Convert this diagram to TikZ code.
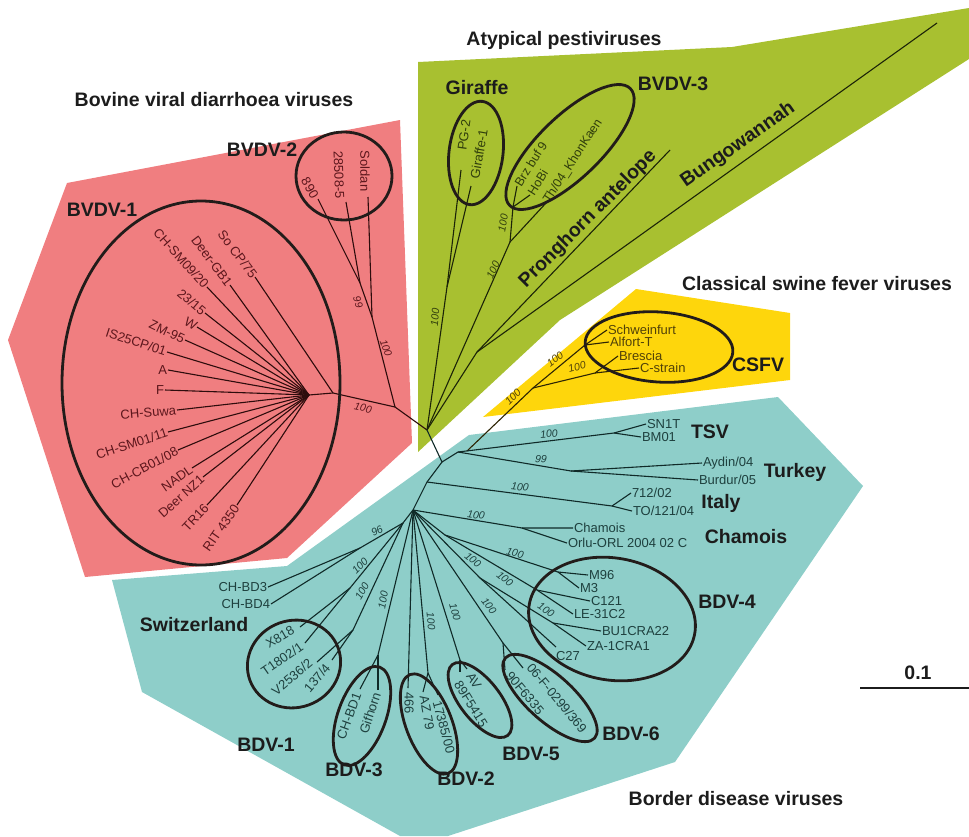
\documentclass[tikz,border=0pt]{standalone}
\usepackage{fontspec}
\setmainfont{Liberation Sans}
\usetikzlibrary{shapes.geometric}
\definecolor{redfill}{RGB}{240,126,128}
\definecolor{greenfill}{RGB}{168,192,48}
\definecolor{yellowfill}{RGB}{254,214,12}
\definecolor{tealfill}{RGB}{142,206,201}
\definecolor{redink}{RGB}{92,22,28}
\definecolor{redline}{RGB}{45,12,12}
\definecolor{greenink}{RGB}{48,62,12}
\definecolor{greenline}{RGB}{28,36,8}
\definecolor{yellowink}{RGB}{82,66,8}
\definecolor{yellowline}{RGB}{45,36,4}
\definecolor{tealink}{RGB}{30,64,62}
\definecolor{tealline}{RGB}{16,42,40}
\definecolor{cladecol}{RGB}{34,28,26}
\definecolor{labelk}{RGB}{28,28,28}
\tikzset{
 leaf/.style={font=\fontsize{13}{13}\selectfont, inner sep=0.8pt},
 rleaf/.style={leaf,text=redink},
 gleaf/.style={leaf,text=greenink},
 yleaf/.style={leaf,text=yellowink},
 tleaf/.style={leaf,text=tealink},
 grp/.style={font=\fontsize{19.5}{20}\selectfont\bfseries, text=labelk, inner sep=0pt},
 bs/.style={font=\fontsize{10.5}{11}\selectfont\itshape, inner sep=0pt},
 rbs/.style={bs,text=redink}, gbs/.style={bs,text=greenink},
 ybs/.style={bs,text=yellowink}, tbs/.style={bs,text=tealink},
 br/.style={line width=1.1pt},
 rbr/.style={br,draw=redline}, gbr/.style={br,draw=greenline},
 ybr/.style={br,draw=yellowline}, tbr/.style={br,draw=tealline},
 clade/.style={draw=cladecol, line width=2.8pt, ellipse, inner sep=0pt},
}
\begin{document}
\begin{tikzpicture}[x=1pt,y=-1pt]
\useasboundingbox (0,0) rectangle (969,836);
% ---------------- background regions
\fill[redfill] (67,183) -- (400,120) -- (412,443) -- (287,558) -- (85,577) -- (8,340) -- cycle;
\fill[greenfill] (418,62) -- (732,47) -- (969,8) -- (969,59) -- (560,320) -- (418,452) -- cycle;
\fill[yellowfill] (636,289) -- (790,313) -- (790,380) -- (483,417) -- cycle;
\fill[tealfill] (112,580) -- (287,566) -- (469,435) -- (778,397) -- (863,486) -- (675,762) -- (448,836) -- (400,836) -- (142,692) -- cycle;

% ---------------- titles
\node[grp] (tBV) at (214,100) {Bovine viral diarrhoea viruses};
\node[grp] (tAT) at (564,40) {Atypical pestiviruses};
\node[grp] (tCS) at (817,284) {Classical swine fever viruses};
\node[grp] (tBD) at (736,799) {Border disease viruses};

% ---------------- internal coordinates
\coordinate (bv1) at (309,395);
\coordinate (bv1b) at (333,393);
\coordinate (bv) at (395,407);
\coordinate (bv2a) at (372,317);
\coordinate (bv2b) at (360,283);
\coordinate (root) at (427,430);
\coordinate (g) at (447,287);
\coordinate (n3) at (510,242);
\coordinate (nb) at (513,207);
\coordinate (pb) at (477,352);
\coordinate (s1) at (442,462);
\coordinate (tt) at (458,452);
\coordinate (c0) at (467,451);
\coordinate (c1) at (533,388);
\coordinate (c2) at (585,345);
\coordinate (c3) at (595,373);
\coordinate (tsvn) at (614,433);
\coordinate (turk) at (571,471);
\coordinate (s2) at (427,482);
\coordinate (itn) at (612,506);
\coordinate (hub) at (413,510);
\coordinate (hub2) at (403,523);
\coordinate (chn) at (522,528);
\coordinate (n96) at (360,548);
\coordinate (nx) at (350,588);
\coordinate (nv) at (353,630);
\coordinate (nb3) at (378,655);
\coordinate (nb2) at (428,673);
\coordinate (nb5) at (460,660);
\coordinate (nb6) at (503,643);
\coordinate (n4) at (445,535);
\coordinate (nm) at (558,572);
\coordinate (nc) at (537,590);
\coordinate (n4c) at (480,578);
\coordinate (nbz) at (553,623);

% ---------------- BVDV-1
\node[rleaf,anchor=east,rotate=-53] (soc) at (255,277) {So CP/75};
\node[rleaf,anchor=east,rotate=-53] (dgb) at (230,285) {Deer-GB1};
\node[rleaf,anchor=east,rotate=-48] (chsm9) at (207,287) {CH-SM09/20};
\node[rleaf,anchor=east,rotate=-40] (l2315) at (205,313) {23/15};
\node[rleaf,anchor=east,rotate=-30] (lw) at (197,327) {W};
\node[rleaf,anchor=east,rotate=-25] (zm) at (185,340) {ZM-95};
\node[rleaf,anchor=east,rotate=-18] (is25) at (167,352) {IS25CP/01};
\node[rleaf,anchor=east] (la) at (168,370) {A};
\node[rleaf,anchor=east] (lf) at (165,390) {F};
\node[rleaf,anchor=east,rotate=5] (suwa) at (177,410) {CH-Suwa};
\node[rleaf,anchor=east,rotate=18] (chsm1) at (168,432) {CH-SM01/11};
\node[rleaf,anchor=east,rotate=28] (chcb) at (178,450) {CH-CB01/08};
\node[rleaf,anchor=east,rotate=35] (nadl) at (192,468) {NADL};
\node[rleaf,anchor=east,rotate=42] (deernz) at (203,477) {Deer NZ1};
\node[rleaf,anchor=east,rotate=47] (tr16) at (207,505) {TR16};
\node[rleaf,anchor=east,rotate=55] (rit) at (237,505) {RIT 4350};
\draw[rbr] (bv1b) -- (soc.east);
\foreach \n in {dgb,chsm9,l2315,lw,zm,is25,la,lf,suwa,chsm1,chcb,nadl,deernz,tr16,rit}
  \draw[rbr] (bv1) -- (\n.east);
\draw[rbr] (bv1) -- (bv1b) -- (bv);
\node[clade,minimum width=278pt,minimum height=364pt] (eBV1) at (201,383) {};
\node[grp] (gBV1) at (102,210) {BVDV-1};
\node[rbs,rotate=-13] (b1) at (363,408) {100};

% ---------------- BVDV-2
\coordinate (e890) at (318,199);
\coordinate (e285) at (346,202);
\coordinate (esol) at (368,197);
\node[rleaf,rotate=-60] (l890) at (310,188) {890};
\node[rleaf,rotate=-88] (l285) at (339,175) {28508-5};
\node[rleaf,rotate=-90] (lsol) at (365,171) {Soldan};
\draw[rbr] (bv) -- (bv2a) -- (bv2b) -- (e890);
\draw[rbr] (bv2b) -- (e285);
\draw[rbr] (bv2a) -- (esol);
\node[clade,minimum width=96pt,minimum height=88pt] (eBV2) at (344,176) {};
\node[grp] (gBV2) at (262,150) {BVDV-2};
\node[rbs,rotate=-72] (b99) at (358,302) {99};
\node[rbs,rotate=-70] (b2) at (386,348) {100};
\draw[rbr] (bv) -- (root);

% ---------------- Atypical
\coordinate (epg) at (461,170);
\coordinate (egi) at (471,186);
\coordinate (epr) at (670,150);
\coordinate (ebu) at (937,23);
\node[gleaf,rotate=82] (lpg) at (464,135) {PG-2};
\node[gleaf,rotate=80] (lgi) at (479,154) {Giraffe-1};
\node[gleaf,font=\fontsize{12.5}{12.5}\selectfont,anchor=west,rotate=58] (lbrz) at (517,186) {Brz buf 9};
\node[gleaf,font=\fontsize{12.5}{12.5}\selectfont,anchor=west,rotate=58] (lhob) at (530,195) {HoBi};
\node[gleaf,font=\fontsize{12.5}{12.5}\selectfont,anchor=west,rotate=57] (lth) at (546,203) {Th/04\_KhonKaen};
\draw[gbr] (root) -- (g) -- (epg);
\draw[gbr] (g) -- (egi);
\draw[gbr] (root) -- (n3) -- (nb) -- (lbrz.west);
\draw[gbr] (nb) -- (lhob.west);
\draw[gbr] (n3) -- (lth.west);
\draw[gbr] (root) -- (pb) -- (epr);
\draw[gbr] (pb) -- (ebu);
\node[clade,minimum width=104pt,minimum height=54pt,rotate=83] (eGir) at (476,153) {};
\node[clade,minimum width=168pt,minimum height=62pt,rotate=44] (eBV3) at (570,147) {};
\node[grp] (gGir) at (477,88) {Giraffe};
\node[grp] (gBV3) at (673,84) {BVDV-3};
\node[grp,rotate=45] (gPr) at (588,219) {Pronghorn antelope};
\node[grp,rotate=35] (gBu) at (738,145) {Bungowannah};
\node[gbs,rotate=85] (b3) at (435,317) {100};
\node[gbs,rotate=65] (b4) at (493,270) {100};
\node[gbs,rotate=80] (b5) at (503,223) {100};

% ---------------- stem
\draw[tbr] (root) -- (s1) -- (tt);
\draw[tbr] (s1) -- (s2) -- (hub) -- (hub2);

% ---------------- CSFV
\node[yleaf,anchor=west] (lsch) at (607,330) {Schweinfurt};
\node[yleaf,anchor=west] (lalf) at (609,342) {Alfort-T};
\node[yleaf,anchor=west] (lbre) at (618,356) {Brescia};
\node[yleaf,anchor=west] (lcst) at (639,368) {C-strain};
\draw[ybr] (c0) -- (c1) -- (c2) -- (lsch.west);
\draw[ybr] (c2) -- (lalf.west);
\draw[ybr] (c1) -- (c3) -- (lbre.west);
\draw[ybr] (c3) -- (lcst.west);
\node[clade,minimum width=148pt,minimum height=70pt,rotate=-4] (eCS) at (659,347) {};
\node[grp] (gCS) at (758,365) {CSFV};
\node[ybs,rotate=45] (b6) at (513,397) {100};
\node[ybs,rotate=38] (b7) at (555,359) {100};
\node[ybs,rotate=15] (b8) at (577,367) {100};

% ---------------- TSV, Turkey, Italy, Chamois
\node[tleaf,anchor=west] (lsn) at (646,424) {SN1T};
\node[tleaf,anchor=west] (lbm) at (641,437) {BM01};
\node[tleaf,anchor=west] (lay) at (702,463) {Aydin/04};
\node[tleaf,anchor=west] (lbu) at (698,480) {Burdur/05};
\node[tleaf,anchor=west] (l712) at (631,493) {712/02};
\node[tleaf,anchor=west] (lto) at (632,511) {TO/121/04};
\node[tleaf,anchor=west] (lcha) at (573,528) {Chamois};
\node[tleaf,anchor=west] (lorl) at (567,543) {Orlu-ORL 2004 02 C};
\draw[tbr] (tt) -- (tsvn) -- (lsn.west);
\draw[tbr] (tsvn) -- (lbm.west);
\draw[tbr] (tt) -- (turk) -- (lay.west);
\draw[tbr] (turk) -- (lbu.west);
\draw[tbr] (s2) -- (itn) -- (l712.west);
\draw[tbr] (itn) -- (lto.west);
\draw[tbr] (hub) -- (chn) -- (lcha.west);
\draw[tbr] (chn) -- (lorl.west);
\node[grp] (gTSV) at (710,432) {TSV};
\node[grp] (gTur) at (795,472) {Turkey};
\node[grp] (gIt) at (721,503) {Italy};
\node[grp] (gCh) at (746,537) {Chamois};
\node[tbs,rotate=5] (b9) at (549,434) {100};
\node[tbs,rotate=-5] (b10) at (541,459) {99};
\node[tbs,rotate=-7] (b11) at (520,487) {100};
\node[tbs,rotate=-8] (b12) at (476,515) {100};

% ---------------- Switzerland / BDV-1 / BDV-3
\node[tleaf,anchor=east] (lbd3) at (268,587) {CH-BD3};
\node[tleaf,anchor=east] (lbd4) at (271,604) {CH-BD4};
\coordinate (ex8) at (300,627);
\coordinate (et1) at (305,643);
\coordinate (ev2) at (317,662);
\coordinate (e137) at (332,660);
\coordinate (ebd1) at (360,689);
\coordinate (egif) at (378,690);
\node[tleaf,rotate=30] (lx8) at (280,637) {X818};
\node[tleaf,rotate=35] (lt1) at (282,659) {T1802/1};
\node[tleaf,rotate=40] (lv2) at (292,677) {V2536/2};
\node[tleaf,rotate=50] (l137) at (317,678) {137/4};
\node[tleaf,rotate=70] (lbd1) at (349,716) {CH-BD1};
\node[tleaf,rotate=72] (lgif) at (370,713) {Gifhorn};
\draw[tbr] (hub2) -- (n96) -- (lbd3.east);
\draw[tbr] (n96) -- (lbd4.east);
\draw[tbr] (hub2) -- (nx) -- (ex8);
\draw[tbr] (nx) -- (et1);
\draw[tbr] (hub2) -- (nv) -- (ev2);
\draw[tbr] (nv) -- (e137);
\draw[tbr] (hub) -- (nb3) -- (ebd1);
\draw[tbr] (nb3) -- (egif);
\node[clade,minimum width=94pt,minimum height=87pt,rotate=20] (eBD1) at (294,664) {};
\node[clade,minimum width=104pt,minimum height=48pt,rotate=70] (eBD3) at (362,716) {};
\node[grp] (gSw) at (194,625) {Switzerland};
\node[grp] (gBD1) at (266,745) {BDV-1};
\node[grp] (gBD3) at (354,770) {BDV-3};
\node[tbs,rotate=28] (b13) at (377,531) {96};
\node[tbs,rotate=45] (b14) at (360,566) {100};
\node[tbs,rotate=60] (b15) at (362,591) {100};
\node[tbs,rotate=80] (b16) at (383,600) {100};

% ---------------- BDV-2, BDV-5, BDV-6
\coordinate (e466) at (408,688);
\coordinate (eaz) at (423,692);
\coordinate (e173) at (438,695);
\coordinate (eav) at (467,669);
\coordinate (e89) at (460,672);
\coordinate (e06) at (523,668);
\coordinate (e90) at (505,670);
\node[tleaf,rotate=-90] (l466) at (409,703) {466};
\node[tleaf,rotate=-80] (laz) at (427,713) {AZ 79};
\node[tleaf,rotate=-75] (l173) at (444,727) {17385/00};
\node[tleaf,rotate=-58] (lav) at (474,681) {AV};
\node[tleaf,rotate=-58] (l89) at (471,704) {89F5415};
\node[tleaf,rotate=-50] (l06) at (557,698) {06-F-0299/369};
\node[tleaf,rotate=-50] (l90) at (525,693) {90F6335};
\draw[tbr] (hub) -- (e466);
\draw[tbr] (hub) -- (nb2) -- (eaz);
\draw[tbr] (nb2) -- (e173);
\draw[tbr] (hub) -- (nb5) -- (eav);
\draw[tbr] (nb5) -- (e89);
\draw[tbr] (hub) -- (nb6) -- (e06);
\draw[tbr] (nb6) -- (e90);
\node[clade,minimum width=106pt,minimum height=46pt,rotate=-69] (eBD2) at (429,724) {};
\node[clade,minimum width=90pt,minimum height=40pt,rotate=-52] (eBD5) at (480,700) {};
\node[clade,minimum width=120pt,minimum height=46pt,rotate=-42] (eBD6) at (550,698) {};
\node[grp] (gBD2) at (466,779) {BDV-2};
\node[grp] (gBD5) at (531,754) {BDV-5};
\node[grp] (gBD6) at (631,734) {BDV-6};
\node[tbs,rotate=-85] (b17) at (431,621) {100};
\node[tbs,rotate=-75] (b18) at (455,612) {100};
\node[tbs,rotate=-52] (b19) at (489,606) {100};

% ---------------- BDV-4
\node[tleaf,anchor=west] (lm96) at (588,575) {M96};
\node[tleaf,anchor=west] (lm3) at (579,588) {M3};
\node[tleaf,anchor=west] (lc121) at (590,601) {C121};
\node[tleaf,anchor=west] (lle) at (573,614) {LE-31C2};
\node[tleaf,anchor=west] (lbu1) at (601,631) {BU1CRA22};
\node[tleaf,anchor=west] (lza) at (586,646) {ZA-1CRA1};
\node[tleaf] (lc27) at (568,656) {C27};
\coordinate (ec27) at (556,647);
\draw[tbr] (hub) -- (n4) -- (nm) -- (lm96.west);
\draw[tbr] (nm) -- (lm3.west);
\draw[tbr] (n4) -- (nc) -- (lc121.west);
\draw[tbr] (nc) -- (lle.west);
\draw[tbr] (hub) -- (n4c) -- (ec27);
\draw[tbr] (n4c) -- (nbz) -- (lbu1.west);
\draw[tbr] (nbz) -- (lza.west);
\node[clade,minimum width=168pt,minimum height=122pt,rotate=-10] (eBD4) at (612,619) {};
\node[grp] (gBD4) at (727,602) {BDV-4};
\node[tbs,rotate=-40] (b20) at (473,560) {100};
\node[tbs,rotate=-15] (b21) at (515,553) {100};
\node[tbs,rotate=-40] (b22) at (505,579) {100};
\node[tbs,rotate=-35] (b23) at (546,610) {100};

% ---------------- scale bar
\coordinate (sbl) at (860,688);
\coordinate (sbr) at (969,688);
\draw[line width=2.5pt,draw=labelk] (sbl) -- (sbr);
\node[grp] (sb) at (918,673) {0.1};
\end{tikzpicture}
\end{document}
